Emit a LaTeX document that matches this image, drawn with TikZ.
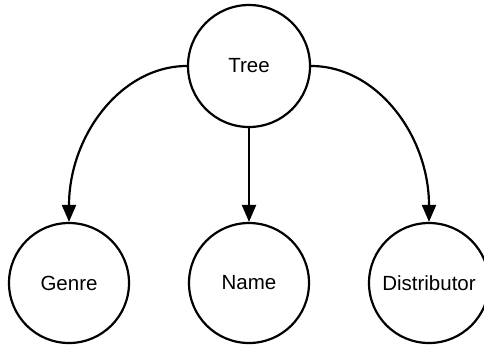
\documentclass[tikz,border=0pt]{standalone}
\usepackage{fontspec}
\setmainfont{Liberation Sans}
\usetikzlibrary{arrows.meta}
\begin{document}
\begin{tikzpicture}[x=1pt,y=1pt,
  ent/.style={circle,draw=black,line width=2.2pt,minimum size=120pt,inner sep=0pt,
    font=\fontsize{20.5}{24}\selectfont},
  link/.style={line width=2.2pt,-{Triangle[length=17pt,width=14pt]}}]
\useasboundingbox (0,0) rectangle (484,-346);
\node[ent,minimum size=122pt] (tree) at (249,-66) {Tree};
\node[ent] (genre) at (69,-283) {Genre};
\node[ent] (name) at (249,-283) {Name};
\node[ent] (dist) at (429,-283) {Distributor};
\draw[link] (tree.west) .. controls +(-66,0) and +(0,86) .. (genre.north);
\draw[link] (tree.south) -- (name.north);
\draw[link] (tree.east) .. controls +(66,0) and +(0,86) .. (dist.north);
\end{tikzpicture}
\end{document}
